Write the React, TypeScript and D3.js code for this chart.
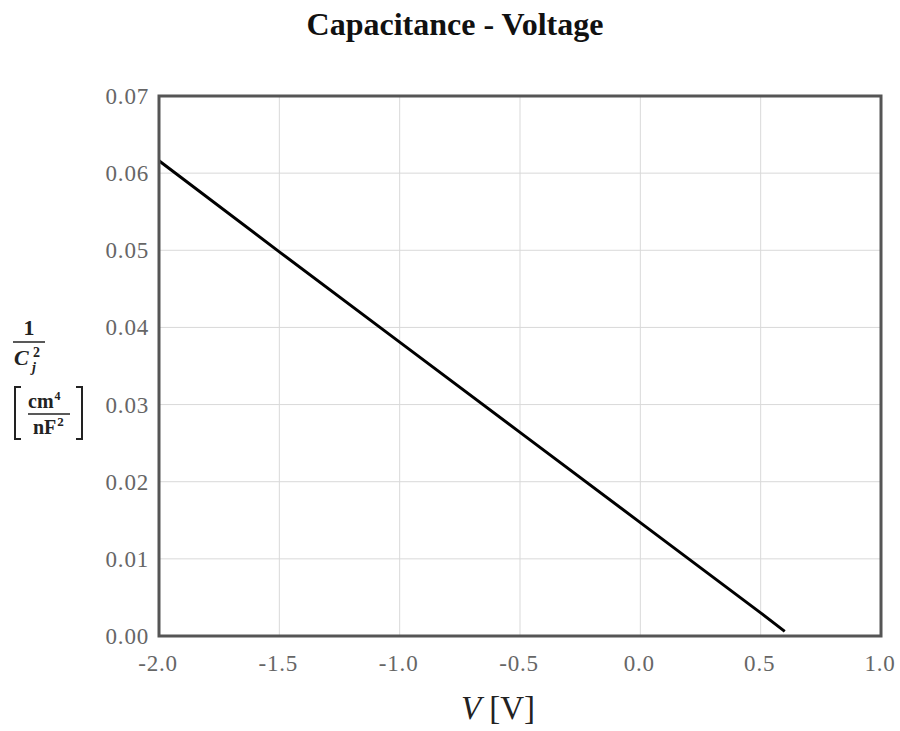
import React, { useEffect, useRef } from 'react';
import * as d3 from 'd3';

const voltage = [-2.0, -1.5, -1.0, -0.5, 0.0, 0.5, 0.6];
const invCapSq = [0.0616, 0.0498, 0.0381, 0.0264, 0.0147, 0.003, 0.0006];
const xTicks = [-2.0, -1.5, -1.0, -0.5, 0.0, 0.5, 1.0];
const yTicks = [0, 0.01, 0.02, 0.03, 0.04, 0.05, 0.06, 0.07];

const App = () => {
  const width = 900,
    height = 731,
    margin = { left: 159, top: 96, right: 19, bottom: 95 };

  const svgRef = useRef<SVGSVGElement>(null);

  useEffect(() => {
    const svg = d3.select(svgRef.current);
    svg.selectAll('*').remove();

    const x = d3.scaleLinear().domain([-2, 1]).range([margin.left, width - margin.right]);
    const y = d3.scaleLinear().domain([0, 0.07]).range([height - margin.bottom, margin.top]);

    const font = '"Liberation Serif", "Times New Roman", serif';

    // grid
    svg.append('g')
      .attr('stroke', '#d9d9d9')
      .attr('stroke-width', 1)
      .call(g => g.selectAll('line.v')
        .data(xTicks.slice(1, -1))
        .join('line')
        .attr('x1', d => x(d)).attr('x2', d => x(d))
        .attr('y1', margin.top).attr('y2', height - margin.bottom))
      .call(g => g.selectAll('line.h')
        .data(yTicks.slice(1, -1))
        .join('line')
        .attr('y1', d => y(d)).attr('y2', d => y(d))
        .attr('x1', margin.left).attr('x2', width - margin.right));

    // data line
    svg.append('path')
      .datum(voltage.map((v, i) => [v, invCapSq[i]] as [number, number]))
      .attr('fill', 'none')
      .attr('stroke', '#000')
      .attr('stroke-width', 3)
      .attr('d', d3.line<[number, number]>().x(d => x(d[0])).y(d => y(d[1])));

    // frame
    svg.append('rect')
      .attr('x', margin.left)
      .attr('y', margin.top)
      .attr('width', width - margin.left - margin.right)
      .attr('height', height - margin.top - margin.bottom)
      .attr('fill', 'none')
      .attr('stroke', '#555')
      .attr('stroke-width', 3);

    // x tick labels
    svg.append('g')
      .attr('font-family', font)
      .attr('font-size', 23)
      .attr('letter-spacing', 0.8)
      .attr('fill', '#666')
      .attr('text-anchor', 'middle')
      .selectAll('text')
      .data(xTicks)
      .join('text')
      .attr('x', d => x(d) - 1)
      .attr('y', height - margin.bottom + 35)
      .text(d => d3.format('.1f')(d).replace('−', '-'));

    // y tick labels
    svg.append('g')
      .attr('font-family', font)
      .attr('font-size', 23)
      .attr('letter-spacing', 0.8)
      .attr('fill', '#666')
      .attr('text-anchor', 'end')
      .selectAll('text')
      .data(yTicks)
      .join('text')
      .attr('x', margin.left - 10)
      .attr('y', d => y(d))
      .attr('dy', '0.35em')
      .text(d => d3.format('.2f')(d));

    // title
    svg.append('text')
      .attr('x', 455)
      .attr('y', 35)
      .attr('text-anchor', 'middle')
      .attr('font-family', font)
      .attr('font-weight', 'bold')
      .attr('font-size', 32)
      .attr('fill', '#111')
      .text('Capacitance - Voltage');

    // x axis label
    const xl = svg.append('text')
      .attr('x', 498)
      .attr('y', 719)
      .attr('text-anchor', 'middle')
      .attr('font-family', font)
      .attr('font-size', 33)
      .attr('fill', '#222');
    xl.append('tspan').attr('font-style', 'italic').text('V');
    xl.append('tspan').text(' [V]');

    // y axis label: 1 / C_j^2 [cm^4 / nF^2]
    const yl = svg.append('g')
      .attr('font-family', font)
      .attr('font-weight', 'bold')
      .attr('fill', '#222');
    yl.append('text').attr('x', 29).attr('y', 335).attr('text-anchor', 'middle')
      .attr('font-size', 22).text('1');
    yl.append('line').attr('x1', 13).attr('x2', 45).attr('y1', 342).attr('y2', 342)
      .attr('stroke', '#222').attr('stroke-width', 1.5);
    yl.append('text').attr('x', 14).attr('y', 365).attr('font-size', 22)
      .attr('font-style', 'italic').text('C');
    yl.append('text').attr('x', 33).attr('y', 357).attr('font-size', 14).text('2');
    yl.append('text').attr('x', 32).attr('y', 372).attr('font-size', 14)
      .attr('font-style', 'italic').text('j');
    // brackets
    yl.append('path').attr('d', 'M21,387 L15,387 L15,439 L21,439')
      .attr('fill', 'none').attr('stroke', '#222').attr('stroke-width', 2);
    yl.append('path').attr('d', 'M76,387 L82,387 L82,439 L76,439')
      .attr('fill', 'none').attr('stroke', '#222').attr('stroke-width', 2);
    const num = yl.append('text').attr('x', 28).attr('y', 408).attr('font-size', 20);
    num.append('tspan').text('cm');
    num.append('tspan').attr('font-size', 12).attr('dy', -8).attr('dx', 1).text('4');
    yl.append('line').attr('x1', 28).attr('x2', 70).attr('y1', 414).attr('y2', 414)
      .attr('stroke', '#222').attr('stroke-width', 1.5);
    const den = yl.append('text').attr('x', 33).attr('y', 434).attr('font-size', 20);
    den.append('tspan').text('nF');
    den.append('tspan').attr('font-size', 13).attr('dy', -8).attr('dx', 1).text('2');
  }, []);

  return (
    <div style={{ position: 'fixed', left: 0, top: 0 }}>
      <svg ref={svgRef} width={width} height={height} style={{ display: 'block', background: '#fff', overflow: 'visible' }}></svg>
    </div>
  );
};

export default App;
